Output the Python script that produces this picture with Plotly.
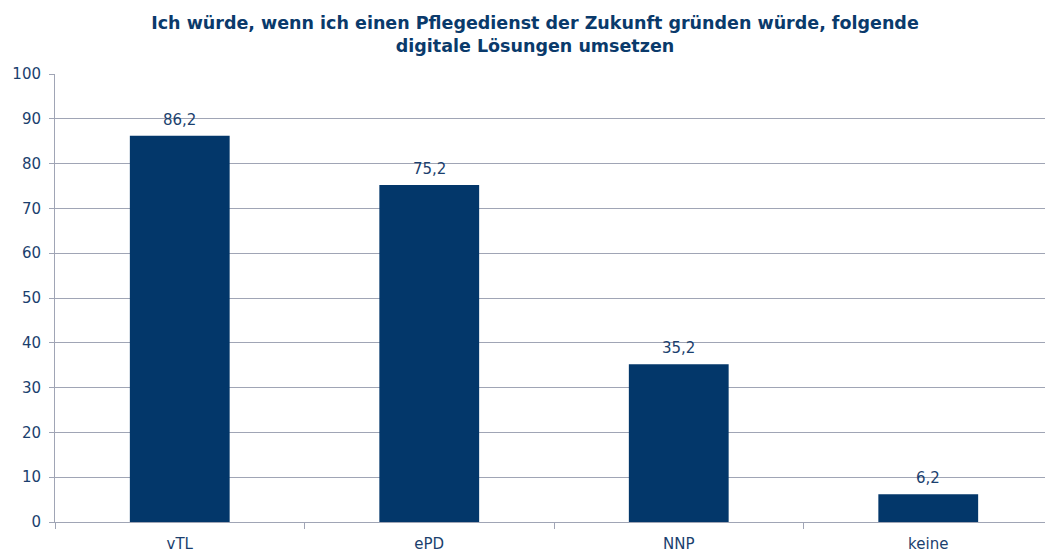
import plotly.graph_objects as go

categories = ["vTL", "ePD", "NNP", "keine"]
values = [86.2, 75.2, 35.2, 6.2]
y_ticks = [0, 10, 20, 30, 40, 50, 60, 70, 80, 90, 100]

title_text = ("Ich würde, wenn ich einen Pflegedienst der Zukunft gründen würde, folgende"
              "<br>digitale Lösungen umsetzen")

bar_color = "#03376A"
text_color = "#1B3F6E"
grid_color = "#A0A5B5"
font_family = "Verdana, DejaVu Sans, sans-serif"

W, H = 1045, 552
L = 55
cat_px = 249.5  # pixel width of one category slot in the reference
plot_w = W - L
x_max = -0.5 + plot_w / cat_px

fig = go.Figure()
fig.add_trace(go.Bar(
    x=categories,
    y=values,
    width=0.40,
    marker=dict(color=bar_color, line=dict(width=0)),
    hoverinfo="x+y",
))

for c, v in zip(categories, values):
    fig.add_annotation(
        x=c, y=v, xref="x", yref="y",
        text=f"{v:.1f}".replace(".", ","),
        showarrow=False,
        yanchor="bottom",
        yshift=5,
        font=dict(family=font_family, size=15, color=text_color),
    )

fig.update_layout(
    width=W,
    height=H,
    separators=",.",
    paper_bgcolor="white",
    plot_bgcolor="white",
    margin=dict(l=L, r=0, t=74, b=30),
    showlegend=False,
    title=dict(
        text=title_text,
        x=(535 - 55) / 990,
        xref="paper",
        xanchor="center",
        y=1 - 29 / H,
        yanchor="top",
        font=dict(family=font_family, size=17.5, color="#0A3A6B", weight="bold"),
    ),
    font=dict(family=font_family, size=15, color=text_color),
    bargap=0.6,
)

fig.update_yaxes(
    range=[0, 100],
    tickvals=y_ticks,
    showgrid=True,
    gridcolor=grid_color,
    gridwidth=1,
    showline=True,
    linecolor=grid_color,
    linewidth=1,
    ticks="outside",
    ticklen=5,
    tickcolor=grid_color,
    ticklabelstandoff=5,
    tickfont=dict(family=font_family, size=15, color=text_color),
    zeroline=False,
)

fig.update_xaxes(
    type="category",
    range=[-0.5, x_max],
    showgrid=False,
    showline=True,
    linecolor=grid_color,
    linewidth=1,
    ticks="outside",
    ticklen=6,
    tickcolor=grid_color,
    tickson="boundaries",
    ticklabelstandoff=8,
    tickfont=dict(family=font_family, size=15, color=text_color),
)

fig.write_html(
    "out.html",
    config={"displayModeBar": False},
    post_script="document.body.style.margin='0';document.body.style.overflow='hidden';",
)
